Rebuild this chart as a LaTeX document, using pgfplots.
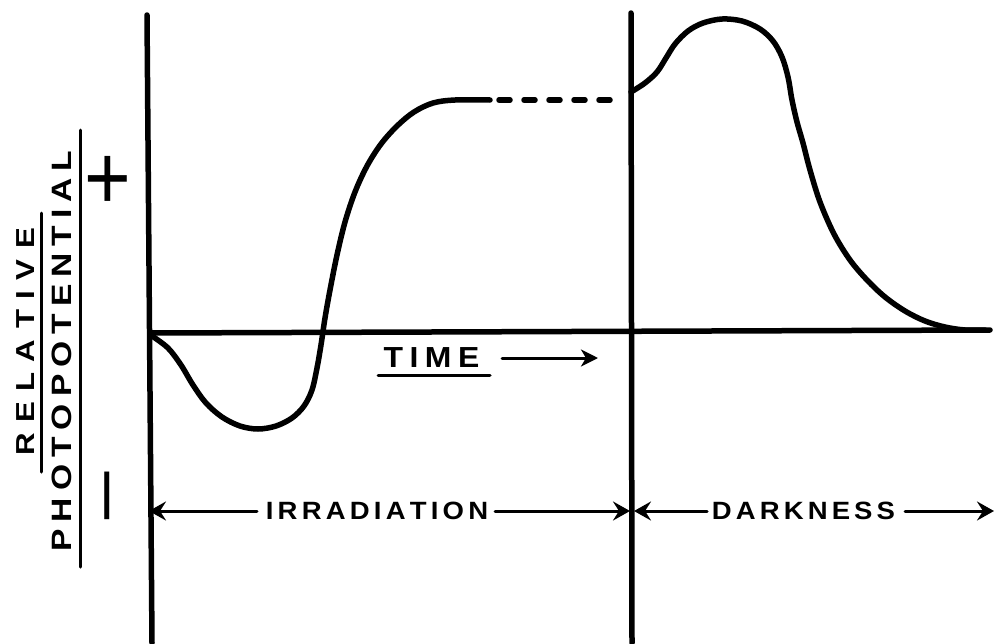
\documentclass[border=0pt]{standalone}
\usepackage{pgfplots}
\pgfplotsset{compat=1.18}
\usetikzlibrary{arrows.meta}
\usepackage{fontspec}
\setmainfont{Liberation Sans}
\newfontfamily\wideA[FakeStretch=1.2]{Liberation Sans Bold}
\newfontfamily\wideB[FakeStretch=1.1]{Liberation Sans Bold}
\makeatletter
\newcommand\spaced[2]{\def\sp@k{#1}\sp@first#2\@nil}
\def\sp@first#1{#1\sp@next}
\def\sp@next#1{\ifx#1\@nil\else\kern\sp@k\relax#1\expandafter\sp@next\fi}
\makeatother
\newcommand\fsA[1]{\wideA\fontsize{#1}{#1}\selectfont}
\newcommand\fsB[1]{\wideB\fontsize{#1}{#1}\selectfont}
\begin{document}
\begin{tikzpicture}
\begin{axis}[
  scale only axis, width=996pt, height=643pt,
  xmin=0, xmax=996, ymin=0, ymax=643, y dir=reverse,
  axis lines=none, ticks=none,
  cycle list={{black}}, no markers,
  every axis plot/.append style={black, line width=5.5pt, line cap=round, line join=round},
  arr/.style={line width=3pt, -{Stealth[length=17pt,width=19pt,inset=6pt]}},
]
% axes
\addplot coordinates {(147,15) (152,643)};
\addplot coordinates {(631,13) (632,643)};
\addplot coordinates {(150,333) (990,330)};
% irradiation curve
\addplot[smooth, tension=0.55] coordinates {
(152,336) (168,348) (181,365) (193,385) (206,403) (222,417) (240,426) (258,429)
(276,426) (292,418) (304,406) (312,390) (317,368) (321,345) (325,318) (330,290)
(337,255) (345,222) (355,192) (367,166) (381,144) (397,126) (414,112) (433,103)
(455,100) (490,100)};
% dashed continuation
\addplot[dash pattern=on 11pt off 14pt] coordinates {(499,100) (622,100)};
% darkness curve
\addplot[smooth, tension=0.55] coordinates {
(631,92) (645,83) (657,72) (666,58) (675,44) (688,31) (703,23) (722,19) (742,21)
(760,29) (773,41) (782,57) (788,77) (792,100) (797,122) (803,143) (810,170)
(820,202) (834,234) (850,260) (867,280) (885,297) (905,311) (925,321) (945,327)
(965,330) (985,330)};
% TIME
\node[font=\fsB{29}, inner sep=0] at (axis cs:431.5,357.5) {\spaced{6.5pt}{TIME}};
\addplot[line width=3pt] coordinates {(378,375) (490,375)};
\addplot[line width=3pt, -{Stealth[length=17pt,width=17pt,inset=5pt]}] coordinates {(502,358) (598,358)};
% bottom row
\node[font=\fsB{25}, inner sep=0] at (axis cs:377,511) {\spaced{4.2pt}{IRRADIATION}};
\node[font=\fsB{25}, inner sep=0] at (axis cs:803.5,511) {\spaced{4.1pt}{DARKNESS}};
\addplot[arr] coordinates {(257,511) (149,511)};
\addplot[arr] coordinates {(495,511) (630,511)};
\addplot[arr] coordinates {(707,511) (634,511)};
\addplot[arr] coordinates {(905,511) (994,511)};
% y label
\node[font=\fsA{26}, rotate=90, inner sep=0] at (axis cs:26,342) {\spaced{10.5pt}{RELATIVE}};
\addplot[line width=3pt] coordinates {(41,213) (41,472)};
\node[font=\fsA{28}, rotate=90, inner sep=0] at (axis cs:62,351) {\spaced{7pt}{PHOTOPOTENTIAL}};
\addplot[line width=3pt] coordinates {(80,130) (80,567)};
\node[font=\fontsize{80}{80}\selectfont, inner sep=0] at (axis cs:108,183) {\scalebox{1}[1.15]{+}};
\node[font=\fontsize{70}{70}\selectfont, rotate=90, inner sep=0] at (axis cs:118,496) {\scalebox{1.4}[1]{−}};
\coordinate (SW) at (axis cs:0,643);
\coordinate (NE) at (axis cs:996,0);
\end{axis}
\pgfresetboundingbox
\path[use as bounding box] (SW) rectangle (NE);
\end{tikzpicture}
\end{document}
